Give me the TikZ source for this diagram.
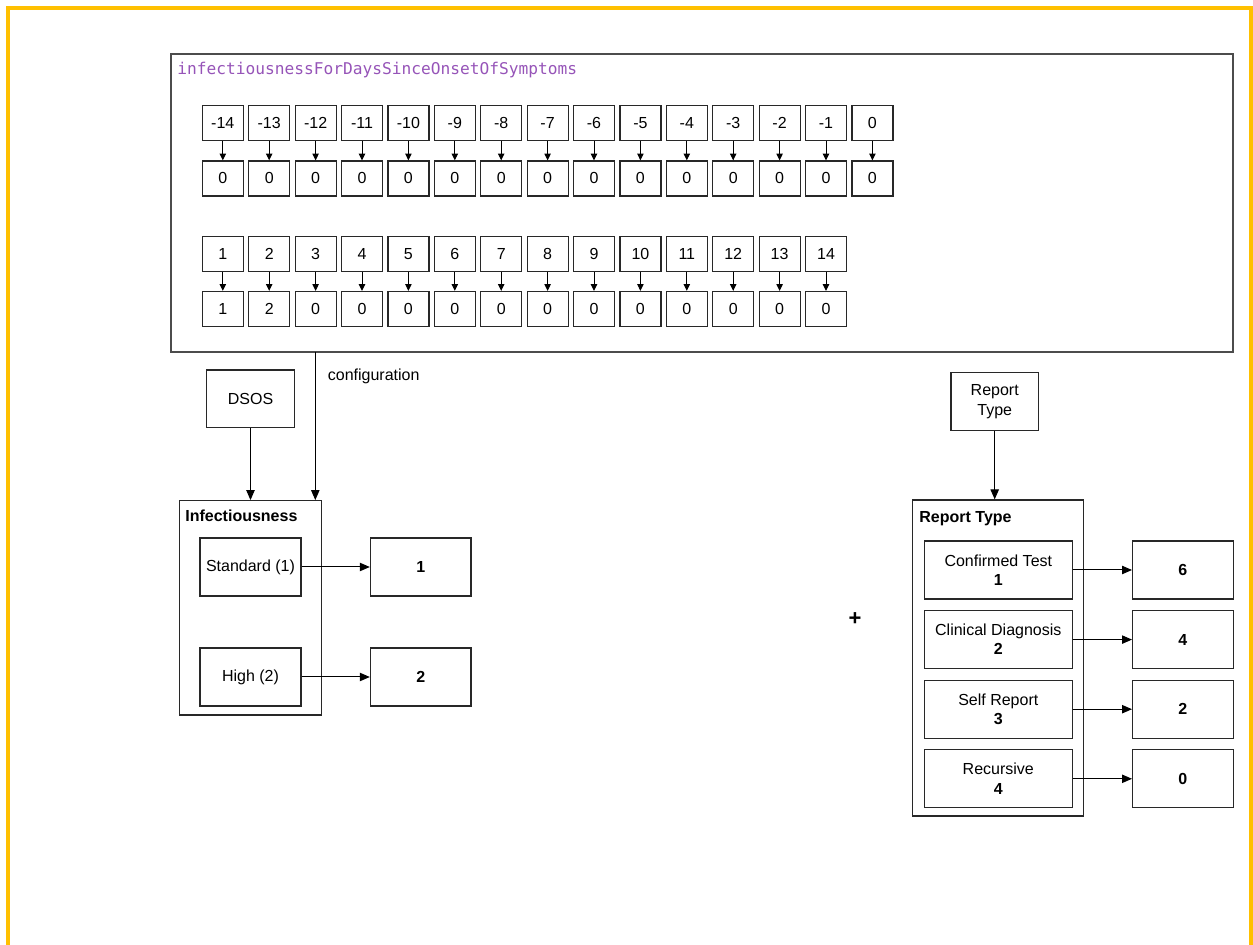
\documentclass[tikz,border=0pt]{standalone}
\usepackage{fontspec}
\setmainfont{Liberation Sans}
\newfontfamily\codefont{DejaVu Sans Mono}
\usetikzlibrary{arrows.meta}
\definecolor{frameyellow}{RGB}{255,192,0}
\definecolor{keypurple}{RGB}{150,84,184}
\definecolor{edge}{RGB}{40,40,40}
\begin{document}
\begin{tikzpicture}[x=0.5pt,y=-0.5pt,
  font=\fontsize{8}{9.6}\selectfont,
  box/.style={draw=edge, line width=0.6pt, inner sep=0pt, align=center},
  cell/.style={box, minimum width=20.5pt, minimum height=17.5pt},
  group/.style={box, minimum width=#1},
  option/.style={box, minimum height=29pt},
  valbox/.style={box, minimum width=50.3pt, minimum height=29pt, font=\fontsize{8}{9.6}\selectfont\bfseries},
  arr/.style={-{Triangle[length=5pt,width=4.2pt]}, line width=0.5pt, draw=black},
  tinyarr/.style={-{Triangle[length=3.4pt,width=3.2pt]}, line width=0.5pt, draw=black},
  heading/.style={anchor=base west, inner sep=0pt, font=\fontsize{8}{9.6}\selectfont\bfseries}
]
\useasboundingbox (0,0) rectangle (1253,945);

% open frame round the page
\draw[frameyellow, line width=2pt] (8,945) -- (8,8) -- (1251,8) -- (1251,945);

% configuration table
\node[box, draw=black!70, minimum width=531pt, minimum height=149pt] (main) at (702,203) {};
\node[anchor=base west, inner sep=0pt, text=keypurple, font=\codefont\fontsize{8.1}{9.6}\selectfont]
  (title) at (177,75) {infectiousnessForDaysSinceOnsetOfSymptoms};

% days before onset and their values
\foreach \d [count=\i from 0] in {-14,-13,-12,-11,-10,-9,-8,-7,-6,-5,-4,-3,-2,-1,0} {
  \node[cell] (a\i) at (222.8+\i*46.4,123) {\d};
  \node[cell] (av\i) at (222.8+\i*46.4,178.5) {0};
  \draw[tinyarr] (a\i) -- (av\i);
}
% days after onset and their values
\foreach \v [count=\i from 1] in {1,2,0,0,0,0,0,0,0,0,0,0,0,0} {
  \node[cell] (b\i) at (176.4+\i*46.4,253.7) {\i};
  \node[cell] (bv\i) at (176.4+\i*46.4,309) {\v};
  \draw[tinyarr] (b\i) -- (bv\i);
}

% infectiousness side
\node[box, minimum width=43.8pt, minimum height=28.9pt] (dsos) at (250.5,399) {DSOS};
\node[anchor=base west, inner sep=0pt] (cfglabel) at (327.5,381) {configuration};
\node[group=71.2pt, minimum height=107.2pt] (inf) at (250.5,607.9) {};
\node[heading] (infhead) at (185,522) {Infectiousness};
\node[option, minimum width=50.5pt] (std) at (250.5,567) {Standard (1)};
\node[option, minimum width=50.5pt] (high) at (250.5,677) {High (2)};
\node[valbox] (v1) at (420.7,567) {1};
\node[valbox] (v2) at (420.7,677) {2};

\coordinate (cfgtop) at (315.3,352);
\draw[arr] (cfgtop) -- (cfgtop |- inf.north);
\draw[arr] (dsos) -- (dsos |- inf.north);
\draw[arr] (std) -- (v1);
\draw[arr] (high) -- (v2);

\node[font=\fontsize{11}{12}\selectfont\bfseries] (plus) at (855,619) {+};

% report type side
\node[box, minimum width=43.7pt, minimum height=29pt] (rt) at (994.7,401.7) {Report\\Type};
\node[group=85.5pt, minimum height=158pt] (rtbox) at (998.2,658) {};
\node[heading] (rthead) at (919,522.7) {Report Type};
\foreach \lab/\num/\val [count=\k from 0] in
  {Confirmed Test/1/6, Clinical Diagnosis/2/4, Self Report/3/2, Recursive/4/0} {
  \node[option, minimum width=74pt] (r\k) at (998.3,570+\k*69.6) {\lab\\\textbf{\num}};
  \node[valbox] (rv\k) at (1182.9,570+\k*69.6) {\val};
  \draw[arr] (r\k) -- (rv\k);
}
\draw[arr] (rt) -- (rt |- rtbox.north);
\end{tikzpicture}
\end{document}
